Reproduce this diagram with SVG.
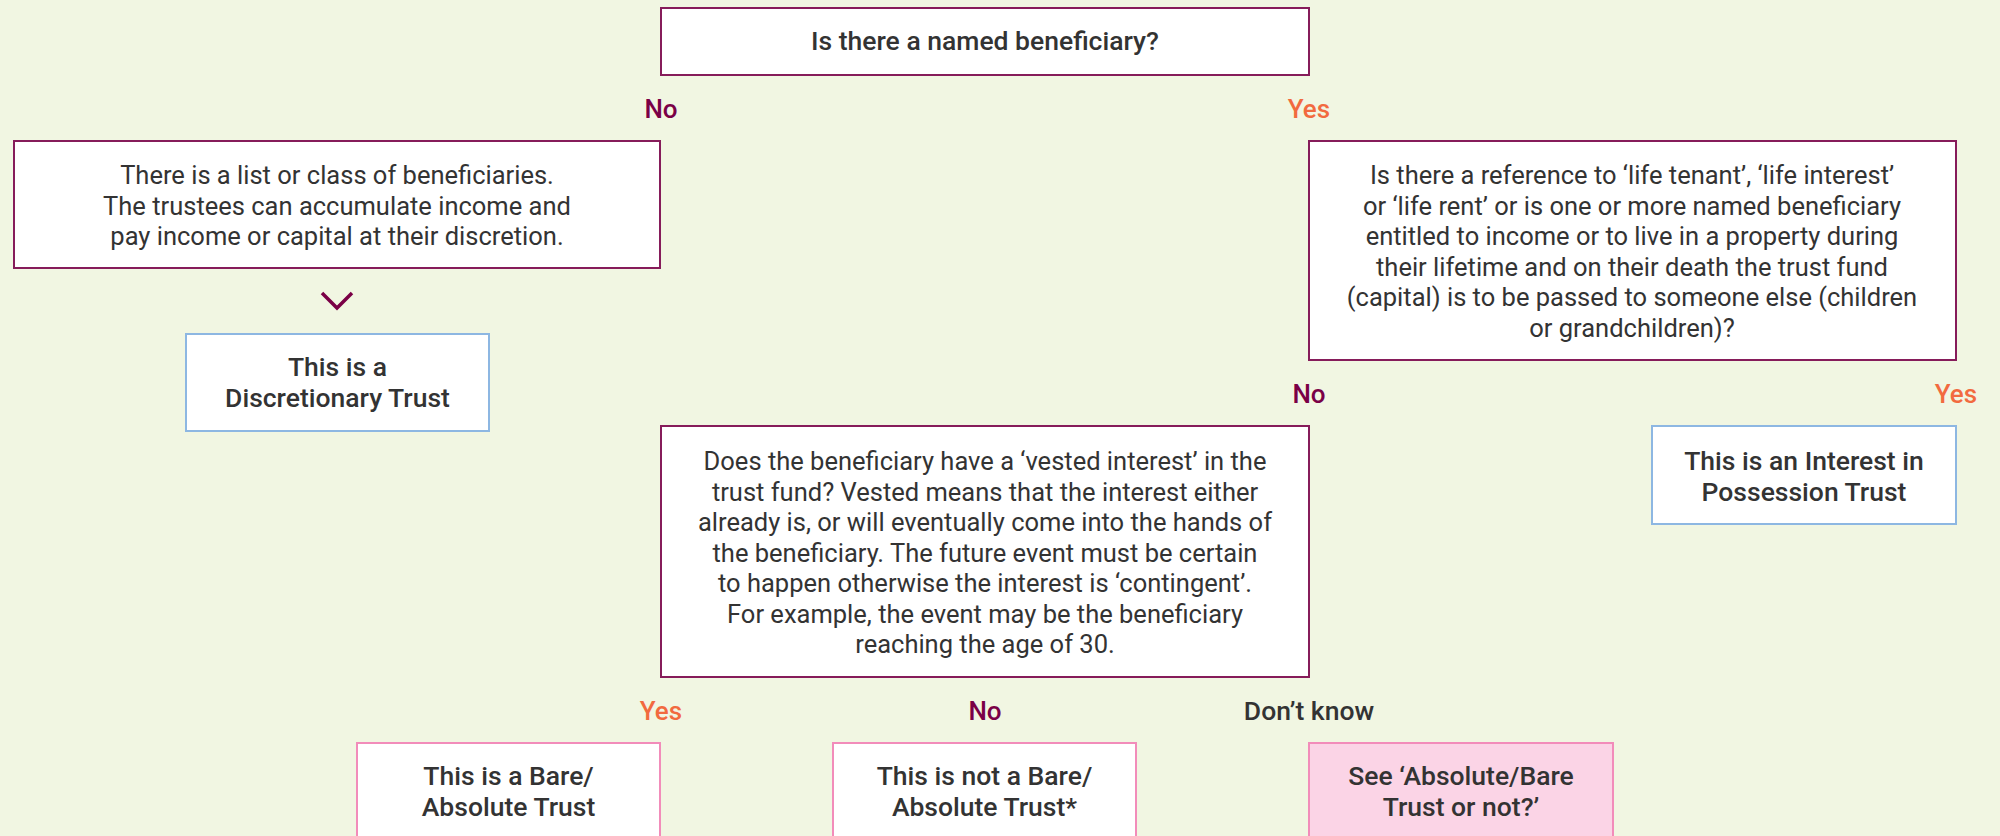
<svg xmlns="http://www.w3.org/2000/svg" width="2000" height="836" viewBox="0 0 2000 836">
<style>
.bg{fill:#f1f6e2}
.q{fill:#ffffff;stroke:#861c5a;stroke-width:2}
.r{fill:#ffffff;stroke:#8db7e2;stroke-width:2}
.p{fill:#ffffff;stroke:#f28cba;stroke-width:2}
.pf{fill:#fbd4e6;stroke:#f28cba;stroke-width:2}
text{font-family:Roboto,"Liberation Sans",Arial,sans-serif;font-size:25.5px;fill:#333333;text-anchor:middle}
.t{font-weight:500;font-size:26.5px}
.no{fill:#7a0046;font-weight:500;font-size:26px}
.yes{fill:#f26a3f;font-weight:500;font-size:26px}
.dk{fill:#333333;font-weight:500;font-size:26.5px}
.chev{fill:none;stroke:#7a0046;stroke-width:3.5}
</style>
<rect class="bg" x="0" y="0" width="2000" height="836"/>
<g id="n-named">
<rect class="q" x="661" y="8" width="648" height="67"/>
<text class="t" x="985" y="50">Is there a named beneficiary?</text>
</g>
<g id="n-list">
<rect class="q" x="14" y="141" width="646" height="127"/>
<text x="337" y="184">There is a list or class of beneficiaries.</text>
<text x="337" y="214.5">The trustees can accumulate income and</text>
<text x="337" y="245">pay income or capital at their discretion.</text>
</g>
<g id="n-discretionary">
<rect class="r" x="186" y="334" width="303" height="97"/>
<text class="t" x="337.5" y="376">This is a</text>
<text class="t" x="337.5" y="407">Discretionary Trust</text>
</g>
<g id="n-life">
<rect class="q" x="1309" y="141" width="647" height="219"/>
<text x="1632" y="184">Is there a reference to ‘life tenant’, ‘life interest’</text>
<text x="1632" y="214.5">or ‘life rent’ or is one or more named beneficiary</text>
<text x="1632" y="245">entitled to income or to live in a property during</text>
<text x="1632" y="275.5">their lifetime and on their death the trust fund</text>
<text x="1632" y="306">(capital) is to be passed to someone else (children</text>
<text x="1632" y="336.5">or grandchildren)?</text>
</g>
<g id="n-iip">
<rect class="r" x="1652" y="426" width="304" height="98"/>
<text class="t" x="1804" y="470">This is an Interest in</text>
<text class="t" x="1804" y="500.5">Possession Trust</text>
</g>
<g id="n-vested">
<rect class="q" x="661" y="426" width="648" height="251"/>
<text x="985" y="470">Does the beneficiary have a ‘vested interest’ in the</text>
<text x="985" y="500.5">trust fund? Vested means that the interest either</text>
<text x="985" y="531">already is, or will eventually come into the hands of</text>
<text x="985" y="561.5">the beneficiary. The future event must be certain</text>
<text x="985" y="592">to happen otherwise the interest is ‘contingent’.</text>
<text x="985" y="622.5">For example, the event may be the beneficiary</text>
<text x="985" y="653">reaching the age of 30.</text>
</g>
<g id="n-bare">
<rect class="p" x="357" y="743" width="303" height="110"/>
<text class="t" x="508.5" y="785">This is a Bare/</text>
<text class="t" x="508.5" y="816">Absolute Trust</text>
</g>
<g id="n-notbare">
<rect class="p" x="833" y="743" width="303" height="110"/>
<text class="t" x="984.5" y="785">This is not a Bare/</text>
<text class="t" x="984.5" y="816">Absolute Trust*</text>
</g>
<g id="n-see">
<rect class="pf" x="1309" y="743" width="304" height="110"/>
<text class="t" x="1461" y="785">See ‘Absolute/Bare</text>
<text class="t" x="1461" y="816">Trust or not?’</text>
</g>
<g id="connectors">
<text class="no" x="661" y="118">No</text>
<text class="yes" x="1309" y="118">Yes</text>
<polyline class="chev" points="322,293 337,308 352,293"/>
<text class="no" x="1309" y="403">No</text>
<text class="yes" x="1956" y="403">Yes</text>
<text class="yes" x="661" y="720">Yes</text>
<text class="no" x="985" y="720">No</text>
<text class="dk" x="1309" y="720">Don’t know</text>
</g>
</svg>
